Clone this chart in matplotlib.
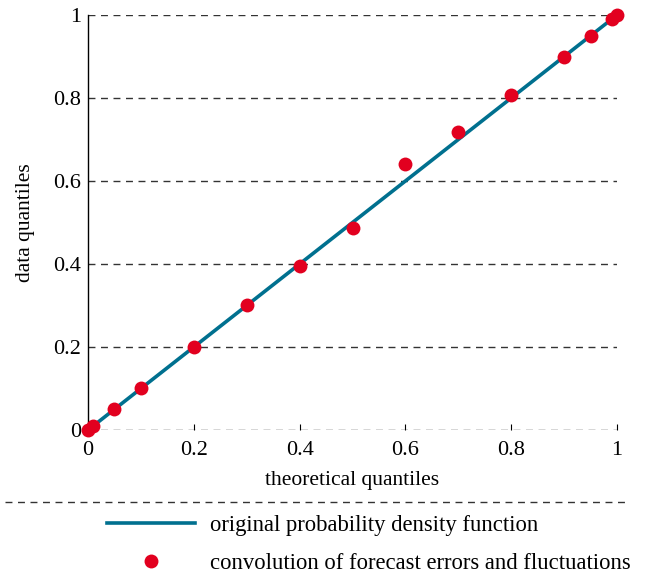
import matplotlib
matplotlib.use('Agg')
import matplotlib.pyplot as plt
from matplotlib.lines import Line2D

plt.rcParams['font.family'] = ['Liberation Serif', 'DejaVu Serif']

# quantile pairs
theo = [0.0, 0.01, 0.05, 0.1, 0.2, 0.3, 0.4, 0.5, 0.6, 0.7, 0.8, 0.9, 0.95, 0.99, 1.0]
data = [0.0, 0.01, 0.05, 0.1, 0.2, 0.3, 0.395, 0.487, 0.642, 0.718, 0.808, 0.9, 0.95, 0.99, 1.0]
ref_x = [0.0, 1.0]
ref_y = [0.0, 1.0]
ticks = [0, 0.2, 0.4, 0.6, 0.8, 1]
tick_labels = ['0', '0.2', '0.4', '0.6', '0.8', '1']

fig = plt.figure(figsize=(6.55, 5.75), dpi=100)
ax = fig.add_axes([0.1344, 0.2522, 0.8076, 0.7217])

blue = '#00708f'
red = '#e2001f'

ax.plot(ref_x, ref_y, color=blue, lw=2.6, solid_capstyle='butt', zorder=3)
ax.plot(theo, data, 'o', color=red, ms=10, mec='none', zorder=4, clip_on=False)

ax.set_xlim(0, 1)
ax.set_ylim(0, 1)
ax.set_xticks(ticks, tick_labels)
ax.set_yticks(ticks, tick_labels)

for t in ticks:
    ax.axhline(t, color='#333333', lw=1.0, ls=(0, (5, 4)), zorder=1)

for s in ['top', 'right', 'bottom']:
    ax.spines[s].set_visible(False)
ax.spines['left'].set_linewidth(1.0)

ax.tick_params(axis='x', direction='in', length=4, width=0.8, labelsize=16, pad=8)
ax.tick_params(axis='y', length=0, labelsize=16, pad=5)

ax.set_xlabel('theoretical quantiles', fontsize=15.5, labelpad=8)
ax.set_ylabel('data quantiles', fontsize=15.5, labelpad=13)

# separator above the legend
fig.add_artist(Line2D([0.008, 0.962], [0.127, 0.127], color='#333333', lw=1.0,
                      ls=(0, (5, 4)), transform=fig.transFigure))

handles = [Line2D([], [], color=blue, lw=2.6),
           Line2D([], [], ls='none', marker='o', color=red, ms=10, mec='none')]
labels = ['original probability density function',
          'convolution of forecast errors and fluctuations']
fig.legend(handles, labels, loc='center left', bbox_to_anchor=(0.163, 0.053),
           frameon=False, fontsize=16.3, handlelength=3.9, handletextpad=0.66,
           labelspacing=0.75, borderpad=0, borderaxespad=0)

fig.savefig('out.png', dpi=100)
